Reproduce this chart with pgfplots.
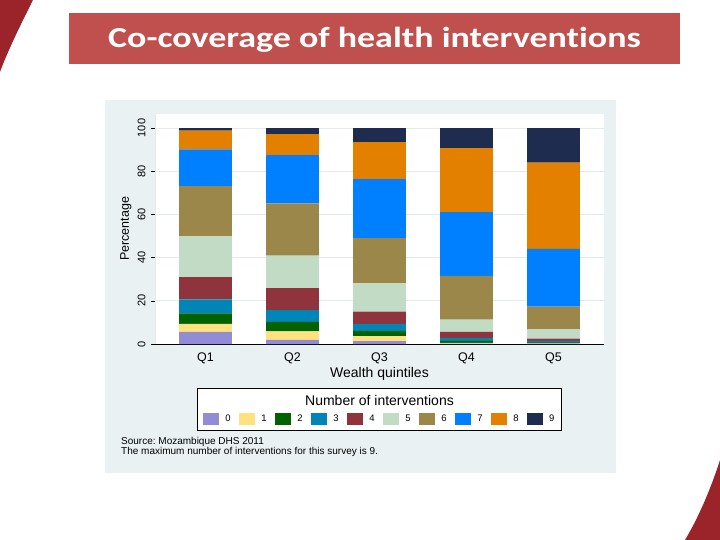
\documentclass[border=0pt]{standalone}
\usepackage{fontspec}
\setmainfont{Liberation Sans}
\newfontfamily\titlefont{Carlito}[Ligatures={NoCommon}]
\usepackage{pgfplots}
\usepackage{pgfplotstable}
\pgfplotsset{compat=1.18}
\definecolor{c0}{RGB}{146,140,212}
\definecolor{c1}{RGB}{255,226,128}
\definecolor{c2}{RGB}{0,98,0}
\definecolor{c3}{RGB}{0,134,182}
\definecolor{c4}{RGB}{143,52,60}
\definecolor{c5}{RGB}{194,219,196}
\definecolor{c6}{RGB}{156,135,74}
\definecolor{c7}{RGB}{0,128,255}
\definecolor{c8}{RGB}{228,128,0}
\definecolor{c9}{RGB}{30,44,80}
\definecolor{panel}{RGB}{234,241,243}
\definecolor{gridc}{RGB}{228,235,238}
\definecolor{titlered}{RGB}{192,80,77}
\definecolor{darkred}{RGB}{155,36,42}

\pgfplotstableread{
q n0 n1 n2 n3 n4 n5 n6 n7 n8 n9
1 5.6 3.7 4.9 6.5 10.3 19.0 23.1 17.0 8.7 1.2
2 1.9 4.0 4.3 5.5 10.2 15.0 24.2 22.4 9.7 2.8
3 1.3 2.3 2.5 3.2 5.7 13.1 20.9 27.3 17.2 6.5
4 0.2 0.3 1.0 1.3 2.8 5.7 20.2 29.6 29.6 9.3
5 0.3 0.2 0.4 0.6 1.0 4.4 10.4 26.7 40.0 16.0
}\datatable

\begin{document}
\frenchspacing
\begin{tikzpicture}
\begin{scope}[x=1pt,y=-1pt]
\useasboundingbox (0,0) rectangle (720,540);
\fill[white] (0,0) rectangle (720,540);
% decorations
\fill[darkred] (0,0) -- (33,0) .. controls (22,22) and (8,50) .. (0,72) -- cycle;
\fill[darkred] (720,460) .. controls (712,485) and (700,515) .. (685,540) -- (720,540) -- cycle;
% title bar
\fill[titlered] (69,13) rectangle (680,64);
\node[text=white, inner sep=0pt] at (374.5,39.5) {\scalebox{1.24}[1]{\titlefont\bfseries\fontsize{29}{31}\selectfont Co-coverage of health interventions}};
% chart panel
\fill[panel] (105,100) rectangle (616,473);
% legend box and title
\draw[black, line width=0.6pt, fill=white] (197.3,388.3) rectangle (561.7,430.7);
\node[inner sep=0pt] at (379.5,400.7) {\fontsize{14}{16}\selectfont Number of interventions};
% notes
\node[anchor=base west, inner sep=0pt] at (121,444.5) {\fontsize{10}{11}\selectfont Source: Mozambique DHS 2011};
\node[anchor=base west, inner sep=0pt] at (121,454.5) {\fontsize{10}{11}\selectfont The maximum number of interventions for this survey is 9.};
\end{scope}

\begin{axis}[
  at={(155pt,-344pt)}, anchor=south west,
  scale only axis, width=449pt, height=230pt,
  xmin=0.42, xmax=5.58, ymin=0, ymax=106.5,
  ybar stacked, bar width=52.7pt,
  axis background/.style={fill=white},
  axis lines*=left,
  x axis line style={black, line width=0.8pt},
  y axis line style={gridc, line width=0.8pt},
  xtick={1,2,3,4,5}, xticklabels={Q1,Q2,Q3,Q4,Q5},
  xtick style={draw=none},
  xticklabel style={anchor=center, yshift=-10.5pt, font=\fontsize{12.5}{14}\selectfont},
  ytick={0,20,40,60,80,100},
  tick align=outside, major tick length=4pt,
  ytick style={black, line width=0.5pt},
  yticklabel style={rotate=90, anchor=south, xshift=0pt, yshift=2pt, font=\fontsize{11}{13}\selectfont},
  /pgf/number format/assume math mode=true,
  ymajorgrids, major grid style={gridc, line width=0.8pt},
  ylabel={Percentage},
  ylabel style={at={(axis description cs:-0.0646,0.5)}, anchor=center, font=\fontsize{12.5}{14}\selectfont},
  xlabel={Wealth quintiles},
  xlabel style={at={(axis description cs:0.5,-0.128)}, anchor=center, font=\fontsize{14}{16}\selectfont},
  legend columns=10,
  legend image code/.code={\fill[#1] (0pt,-6pt) rectangle (16pt,6pt);},
  legend style={at={(0.1062,-0.326)}, anchor=west, draw=none, fill=none,
    inner sep=0pt, outer sep=0pt,
    nodes={inner sep=0pt, font=\fontsize{9.5}{11}\selectfont},
    /tikz/every odd column/.append style={column sep=6.7pt},
    /tikz/every even column/.append style={column sep=8pt}},
]
\addplot[fill=c0, draw=none] table[x=q, y=n0] {\datatable};
\addplot[fill=c1, draw=none] table[x=q, y=n1] {\datatable};
\addplot[fill=c2, draw=none] table[x=q, y=n2] {\datatable};
\addplot[fill=c3, draw=none] table[x=q, y=n3] {\datatable};
\addplot[fill=c4, draw=none] table[x=q, y=n4] {\datatable};
\addplot[fill=c5, draw=none] table[x=q, y=n5] {\datatable};
\addplot[fill=c6, draw=none] table[x=q, y=n6] {\datatable};
\addplot[fill=c7, draw=none] table[x=q, y=n7] {\datatable};
\addplot[fill=c8, draw=none] table[x=q, y=n8] {\datatable};
\addplot[fill=c9, draw=none] table[x=q, y=n9] {\datatable};
\legend{0,1,2,3,4,5,6,7,8,9}
\end{axis}
\end{tikzpicture}
\end{document}
